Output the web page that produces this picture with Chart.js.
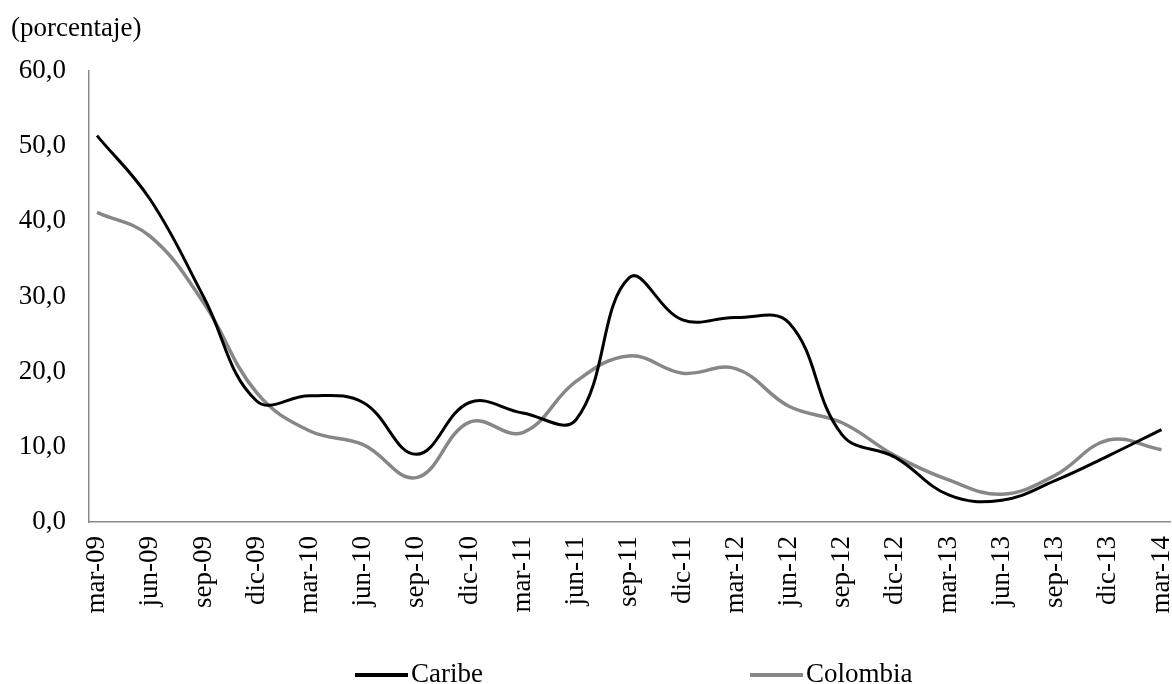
<!DOCTYPE html>
<html>
<head>
<meta charset="utf-8">
<script src="https://cdn.jsdelivr.net/npm/chart.js@4/dist/chart.umd.min.js"></script>
<style>
  body { margin: 0; background: #fff; }
  canvas { display: block; }
</style>
</head>
<body>
<canvas id="grafico" width="1172" height="684"></canvas>
<script>
// trimestres
var labels = ['mar-09','jun-09','sep-09','dic-09','mar-10','jun-10','sep-10','dic-10','mar-11','jun-11',
              'sep-11','dic-11','mar-12','jun-12','sep-12','dic-12','mar-13','jun-13','sep-13','dic-13','mar-14'];

var caribe   = [51.4, 42.9, 30.0, 16.1, 16.8, 15.9, 9.0, 15.9, 14.5, 13.6,
                32.5, 26.9, 27.2, 26.5, 11.6, 8.6, 3.6, 2.9, 5.5, 8.8, 12.3];
var colombia = [41.2, 38.0, 29.2, 17.2, 12.1, 10.3, 5.9, 13.3, 11.9, 18.7,
                22.1, 19.8, 20.4, 15.4, 13.2, 8.8, 5.6, 3.7, 6.2, 10.9, 9.6];

var yTicks = [0, 10, 20, 30, 40, 50, 60];

var fuente = 'Liberation Serif, "Times New Roman", serif';
var gris = '#898989';

function puntos(serie) {
  var out = [];
  for (var i = 0; i < serie.length; i++) {
    out.push({x: i, y: serie[i]});
  }
  return out;
}

// titulo y leyenda dibujados a mano
var extras = {
  id: 'extras',
  afterDraw: function(chart) {
    var ctx = chart.ctx;
    ctx.save();
    ctx.fillStyle = '#000';
    ctx.font = '27px ' + fuente;
    ctx.textBaseline = 'middle';
    ctx.textAlign = 'left';
    ctx.fillText('(porcentaje)', 11, 29);

    var pos = [355, 750];
    chart.data.datasets.forEach(function(ds, i) {
      var x = pos[i], y = 675;
      ctx.strokeStyle = ds.borderColor;
      ctx.lineWidth = 4;
      ctx.beginPath();
      ctx.moveTo(x, y);
      ctx.lineTo(x + 53, y);
      ctx.stroke();
      ctx.fillText(ds.label, x + 56, y);
    });
    ctx.restore();
  }
};

var config = {
  type: 'line',
  data: {
    datasets: [{
      label: 'Caribe',
      data: puntos(caribe),
      borderColor: '#000000',
      borderWidth: 3,
      pointRadius: 0,
      tension: 0.4,
      fill: false
    }, {
      label: 'Colombia',
      data: puntos(colombia),
      borderColor: '#878787',
      borderWidth: 3.5,
      pointRadius: 0,
      tension: 0.4,
      fill: false
    }]
  },
  options: {
    responsive: false,
    animation: false,
    layout: { padding: { left: 0, top: 71, right: 2, bottom: 0 } },
    plugins: {
      legend: { display: false },
      tooltip: { enabled: false }
    },
    scales: {
      x: {
        type: 'linear',
        min: -0.15,
        max: 20.16,
        grid: { display: false, drawTicks: false },
        border: { display: true, color: gris, width: 1.5 },
        afterBuildTicks: function(scale) {
          scale.ticks = labels.map(function(l, i) { return {value: i}; });
        },
        afterFit: function(scale) {
          scale.height = 162;
          scale.paddingLeft = 0;
          scale.paddingRight = 0;
        },
        ticks: {
          autoSkip: false,
          maxRotation: 90,
          minRotation: 90,
          padding: 14,
          color: '#000',
          font: { family: fuente, size: 27 },
          callback: function(v) { return labels[v]; }
        }
      },
      y: {
        min: yTicks[0],
        max: yTicks[yTicks.length - 1],
        grid: { display: false, drawTicks: false },
        border: { display: true, color: gris, width: 1.5 },
        afterBuildTicks: function(scale) {
          scale.ticks = yTicks.map(function(v) { return {value: v}; });
        },
        afterFit: function(scale) {
          scale.width = 89;
          scale.paddingTop = 0;
          scale.paddingBottom = 0;
        },
        ticks: {
          padding: 23,
          color: '#000',
          font: { family: fuente, size: 27 },
          callback: function(v) { return v.toFixed(1).replace('.', ','); }
        }
      }
    }
  },
  plugins: [extras]
};

var ctx = document.getElementById('grafico');
var myChart = new Chart(ctx, config);
</script>
</body>
</html>
